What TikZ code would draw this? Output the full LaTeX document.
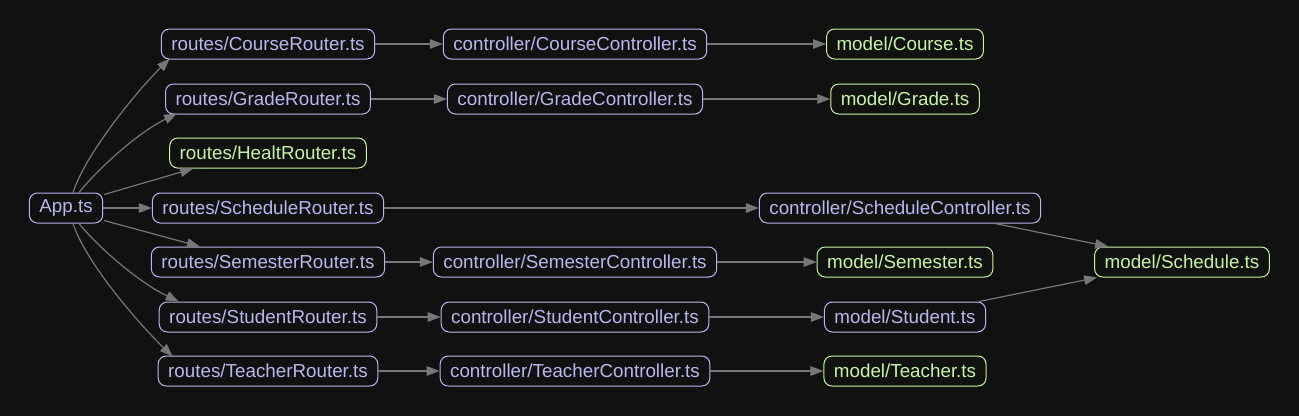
\documentclass[tikz,border=0pt]{standalone}
\usepackage{fontspec}
\setmainfont{Liberation Sans}
\usetikzlibrary{arrows.meta,calc}
\definecolor{bg}{HTML}{111111}
\definecolor{lav}{HTML}{B8B8F0}
\definecolor{grn}{HTML}{C6F4A4}
\definecolor{edg}{HTML}{777777}
\tikzset{
  box/.style={draw=lav, text=lav, rounded corners=8bp, line width=1bp,
    minimum height=30bp, inner xsep=10bp, inner ysep=0bp,
    font=\fontsize{18.8bp}{22bp}\selectfont},
  leaf/.style={box, draw=grn, text=grn},
  edge/.style={draw=edg, line width=1.2bp, -{Triangle[length=13bp,width=9.5bp]}}
}
\begin{document}
\begin{tikzpicture}[x=1bp,y=-1bp]
\fill[bg] (0,0) rectangle (1299,416);
\useasboundingbox (0,0) rectangle (1299,416);
% column 0
\node[box] (app) at (66,208) {App.ts};
% routers
\node[box] (rcourse) at (268,44) {routes/CourseRouter.ts};
\node[box] (rgrade) at (268,99) {routes/GradeRouter.ts};
\node[leaf] (rhealt) at (268,153) {routes/HealtRouter.ts};
\node[box] (rsched) at (268,208) {routes/ScheduleRouter.ts};
\node[box] (rsem) at (268,262) {routes/SemesterRouter.ts};
\node[box] (rstud) at (268,317) {routes/StudentRouter.ts};
\node[box] (rteach) at (268,371) {routes/TeacherRouter.ts};
% controllers
\node[box] (ccourse) at (575,44) {controller/CourseController.ts};
\node[box] (cgrade) at (575,99) {controller/GradeController.ts};
\node[box] (csched) at (900,208) {controller/ScheduleController.ts};
\node[box] (csem) at (575,262) {controller/SemesterController.ts};
\node[box] (cstud) at (575,317) {controller/StudentController.ts};
\node[box] (cteach) at (575,371) {controller/TeacherController.ts};
% models
\node[leaf] (mcourse) at (905,44) {model/Course.ts};
\node[leaf] (mgrade) at (905,99) {model/Grade.ts};
\node[leaf] (msem) at (905,262) {model/Semester.ts};
\node[box] (mstud) at (905,317) {model/Student.ts};
\node[leaf] (mteach) at (905,371) {model/Teacher.ts};
\node[leaf] (msched) at (1182,262) {model/Schedule.ts};
% edges from App
\draw[edge] ($(app.north)+(7,0)$) .. controls (85,155) and (135,93) .. ($(rcourse.south west)+(9,-1)$);
\draw[edge] ($(app.north)+(13,0)$) .. controls (97,170) and (137,133) .. ($(rgrade.south west)+(12,-1)$);
\draw[edge] ($(app.north east)+(1,2)$) -- ($(rhealt.south west)+(24,0)$);
\draw[edge] (app.east) -- (rsched.west);
\draw[edge] ($(app.south east)+(1,-3)$) -- ($(rsem.north west)+(49,0)$);
\draw[edge] ($(app.south)+(13,0)$) .. controls (97,246) and (138,282) .. ($(rstud.north west)+(20,0)$);
\draw[edge] ($(app.south)+(7,0)$) .. controls (85,261) and (137,322) .. ($(rteach.north west)+(15,1)$);
% router -> controller
\draw[edge] (rcourse.east) -- (ccourse.west);
\draw[edge] (rgrade.east) -- (cgrade.west);
\draw[edge] (rsched.east) -- (csched.west);
\draw[edge] (rsem.east) -- (csem.west);
\draw[edge] (rstud.east) -- (cstud.west);
\draw[edge] (rteach.east) -- (cteach.west);
% controller -> model
\draw[edge] (ccourse.east) -- (mcourse.west);
\draw[edge] (cgrade.east) -- (mgrade.west);
\draw[edge] (csem.east) -- (msem.west);
\draw[edge] (cstud.east) -- (mstud.west);
\draw[edge] (cteach.east) -- (mteach.west);
\draw[edge] ($(csched.south east)+(-46,0)$) -- ($(msched.north west)+(14,0)$);
\draw[edge] ($(mstud.north east)+(-7,0)$) -- ($(msched.south west)+(3,0)$);
\end{tikzpicture}
\end{document}
